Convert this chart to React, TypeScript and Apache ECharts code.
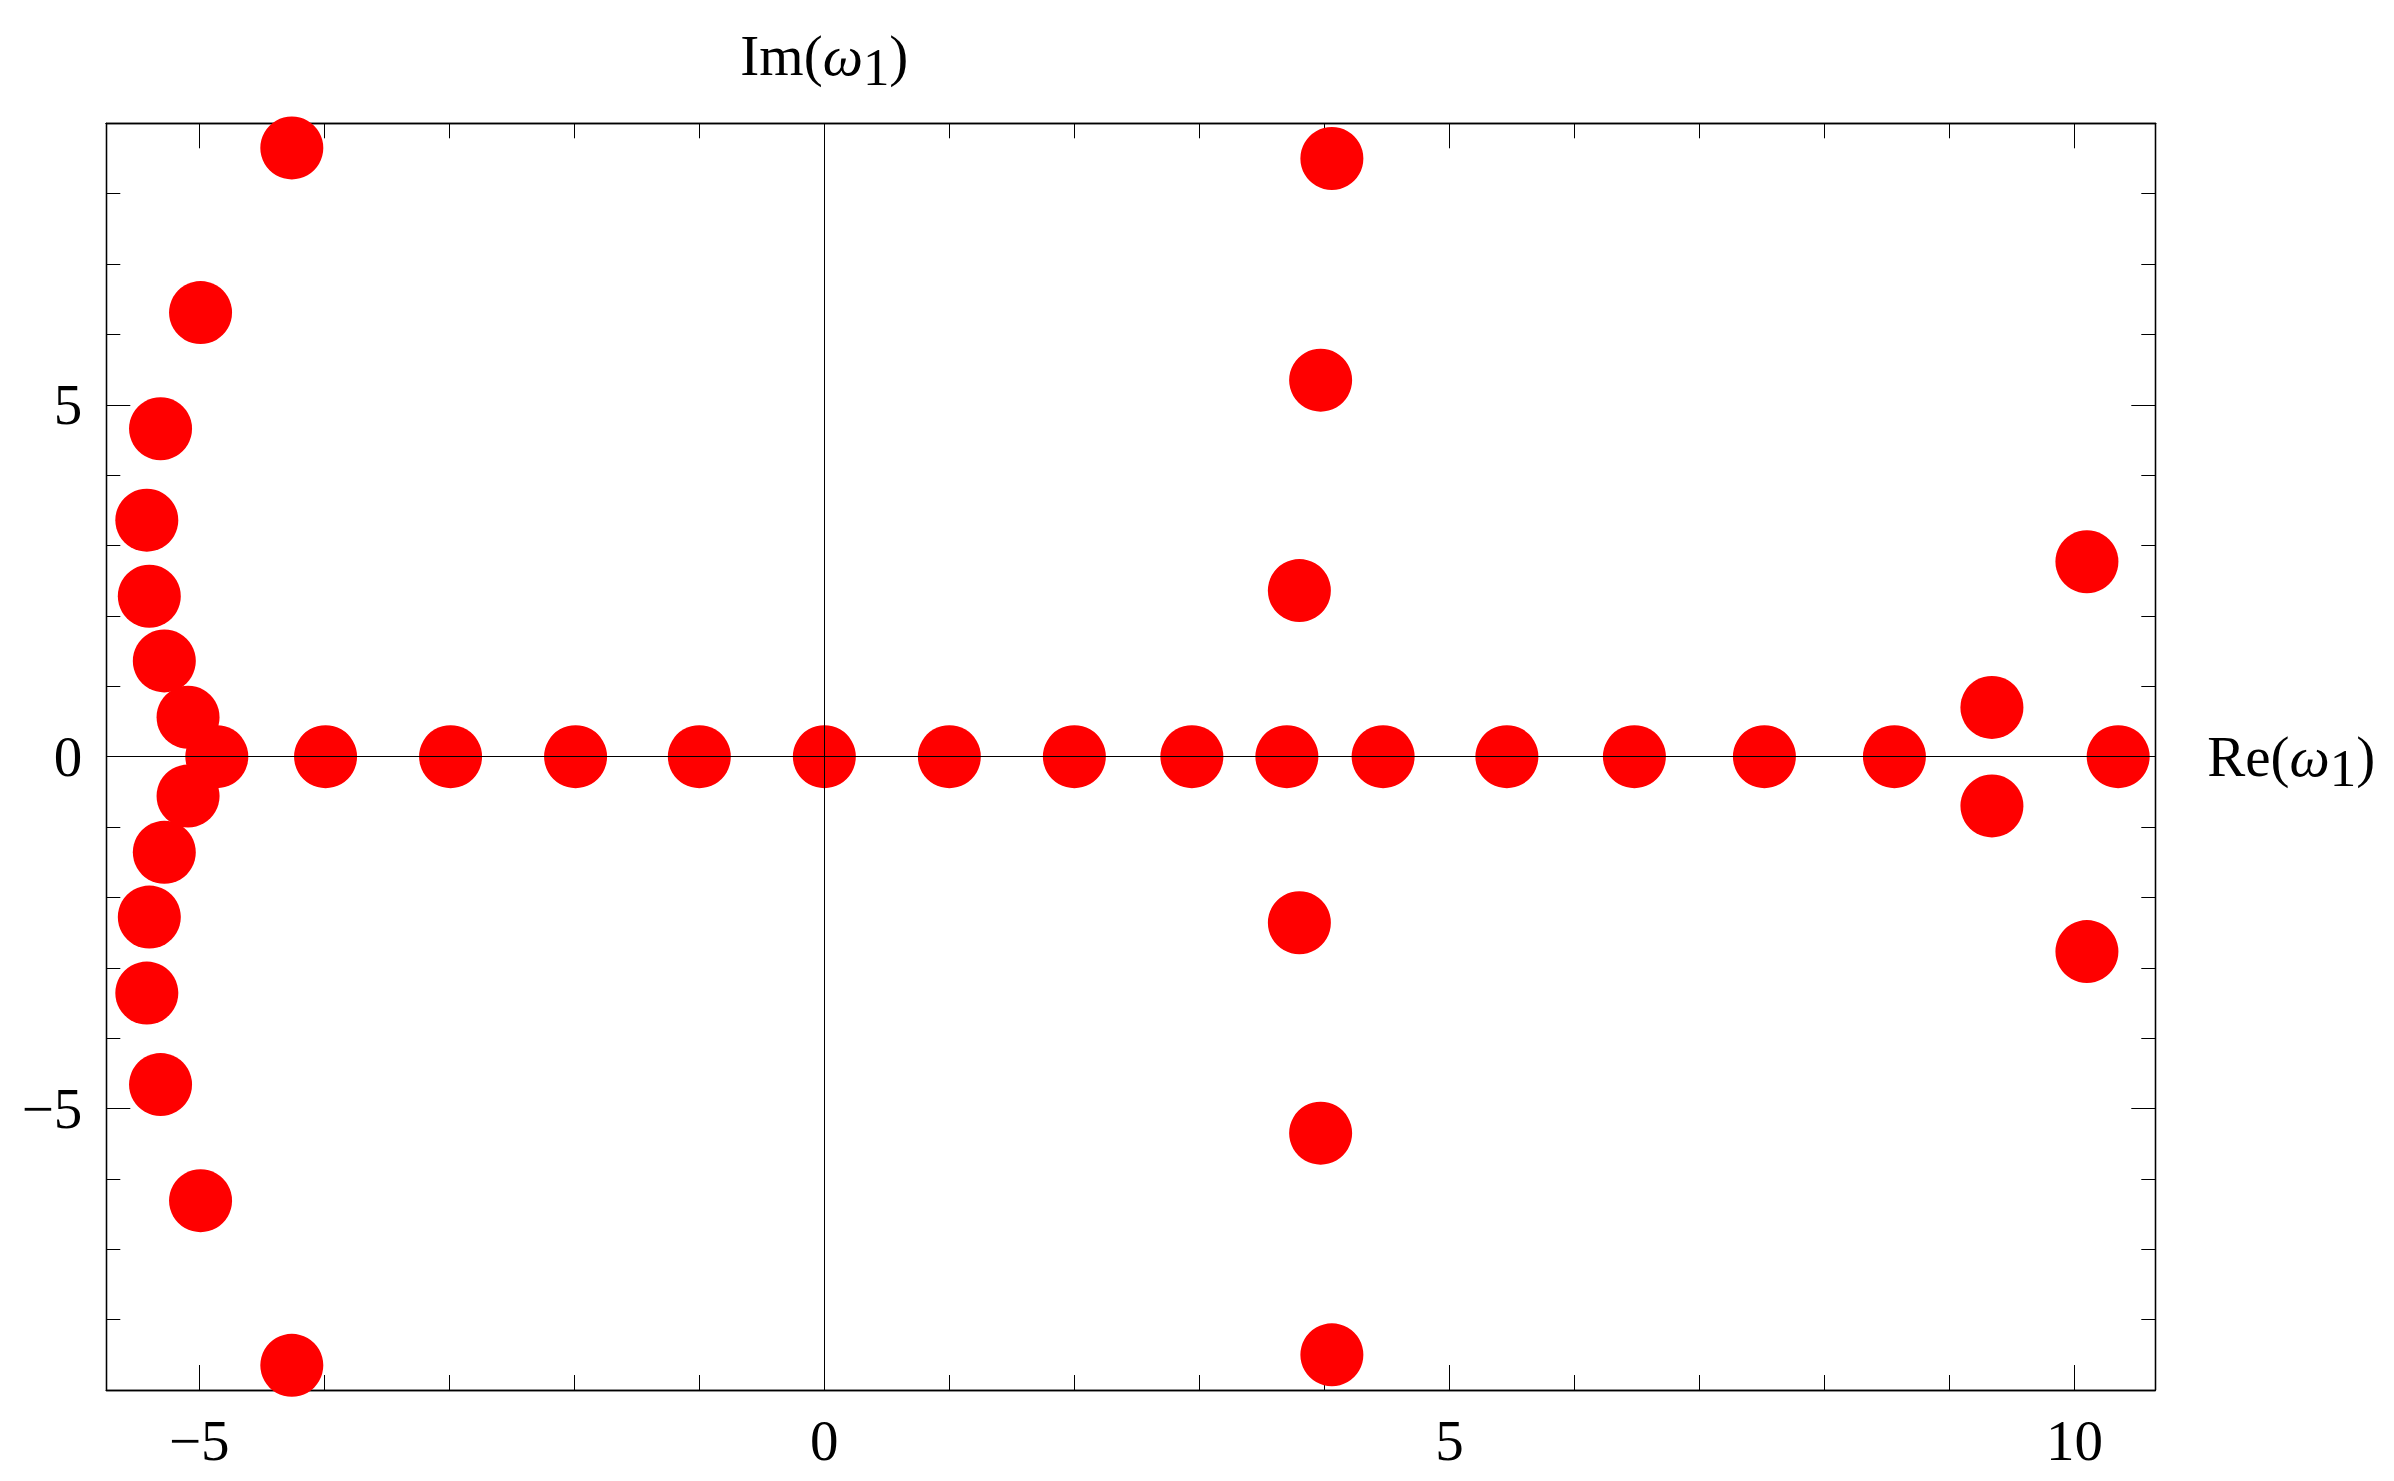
import React, { useEffect, useRef } from "react";
import * as echarts from "echarts";

const reValues: number[] = [
  // left branch, upper half
  -4.26, -4.99, -5.31, -5.42, -5.40, -5.28, -5.09,
  // left branch, lower half
  -4.26, -4.99, -5.31, -5.42, -5.40, -5.28, -5.09,
  // real axis
  -4.86, -3.99, -2.99, -1.99, -1.0, 0.0, 1.0, 2.0, 2.94, 3.70, 4.47, 5.46, 6.48, 7.52, 8.56, 10.35,
  // middle branch
  3.80, 3.97, 4.06, 3.80, 3.97, 4.06,
  // right group
  9.34, 10.10, 9.34, 10.10,
];
const imValues: number[] = [
  8.65, 6.31, 4.66, 3.36, 2.28, 1.36, 0.56,
  -8.65, -6.31, -4.66, -3.36, -2.28, -1.36, -0.56,
  0, 0, 0, 0, 0, 0, 0, 0, 0, 0, 0, 0, 0, 0, 0, 0,
  2.36, 5.35, 8.50, -2.36, -5.35, -8.50,
  0.70, 2.77, -0.70, -2.77,
];

const xMin = -5.744;
const xMax = 10.647;
const yMin = -9;
const yMax = 9;
const xMinorTicks: number[] = [-5, -4, -3, -2, -1, 0, 1, 2, 3, 4, 5, 6, 7, 8, 9, 10];
const xMajorTicks: number[] = [-5, 0, 5, 10];
const yMinorTicks: number[] = [-9, -8, -7, -6, -5, -4, -3, -2, -1, 0, 1, 2, 3, 4, 5, 6, 7, 8, 9];
const yMajorTicks: number[] = [-5, 0, 5];
const xAxisTitle = "{n|Re(}{w|ω}{s|1}{n|)}";
const yAxisTitle = "{n|Im(}{w|ω}{s|1}{n|)}";

const FONT = '"Liberation Serif", "Times New Roman", serif';
const FS = 57;

const fmt = (v: number) => (v < 0 ? "\u2212" + Math.abs(v) : String(v));

const rich = {
  n: { fontFamily: FONT, fontSize: FS, color: "#000" },
  w: { fontFamily: FONT, fontSize: FS, fontStyle: "italic", color: "#000" },
  s: { fontFamily: FONT, fontSize: 53, color: "#000", padding: [22, 0, 0, 0] },
};

function mkX(position: string, ticks: number[], len: number, labels: number[] | null) {
  return {
    type: "value",
    position,
    min: xMin,
    max: xMax,
    axisLine: { show: true, onZero: false, lineStyle: { color: "#000", width: 1.3 } },
    axisTick: { show: true, inside: true, length: len, customValues: ticks, lineStyle: { color: "#000", width: 1 } },
    axisLabel: labels
      ? { show: true, customValues: labels, formatter: fmt, margin: 22, fontFamily: FONT, fontSize: FS, color: "#000" }
      : { show: false },
    splitLine: { show: false },
  };
}

function mkY(position: string, ticks: number[], len: number, labels: number[] | null) {
  return {
    type: "value",
    position,
    min: yMin,
    max: yMax,
    axisLine: { show: true, onZero: false, lineStyle: { color: "#000", width: 1.3 } },
    axisTick: { show: true, inside: true, length: len, customValues: ticks, lineStyle: { color: "#000", width: 1 } },
    axisLabel: labels
      ? { show: true, customValues: labels, formatter: fmt, margin: 24, fontFamily: FONT, fontSize: FS, color: "#000" }
      : { show: false },
    splitLine: { show: false },
  };
}

export default function App() {
  const ref = useRef<HTMLDivElement>(null);

  useEffect(() => {
    if (!ref.current) return;
    const chart = echarts.init(ref.current, null, { renderer: "svg" });
    const points = reValues.map((r, i) => [r, imValues[i]]);
    chart.setOption({
      animation: false,
      backgroundColor: "#fff",
      grid: { left: 106.3, right: 238.7, top: 123.3, bottom: 91, containLabel: false },
      xAxis: [
        mkX("bottom", xMinorTicks, 15, null),
        mkX("bottom", xMajorTicks, 25, xMajorTicks),
        mkX("top", xMinorTicks, 15, null),
        mkX("top", xMajorTicks, 25, null),
      ],
      yAxis: [
        mkY("left", yMinorTicks, 14, null),
        mkY("left", yMajorTicks, 24, yMajorTicks),
        mkY("right", yMinorTicks, 14, null),
        mkY("right", yMajorTicks, 24, null),
      ],
      series: [
        {
          type: "scatter",
          xAxisIndex: 0,
          yAxisIndex: 0,
          data: points,
          symbol: "circle",
          symbolSize: 63,
          itemStyle: { color: "#ff0000", opacity: 1 },
          emphasis: { disabled: true },
          markLine: {
            silent: true,
            symbol: "none",
            animation: false,
            lineStyle: { color: "#000", width: 1, type: "solid" },
            emphasis: { disabled: true },
            data: [
              {
                xAxis: 0,
                label: { show: true, position: "end", distance: 30, formatter: yAxisTitle, rich },
              },
              {
                yAxis: 0,
                label: { show: true, position: "end", distance: 52, formatter: xAxisTitle, rich },
              },
            ],
          },
        },
      ],
    });
    return () => chart.dispose();
  }, []);

  return (
    <div
      ref={ref}
      style={{ position: "fixed", left: 0, top: 0, width: 2394, height: 1481, background: "#fff" }}
    />
  );
}
